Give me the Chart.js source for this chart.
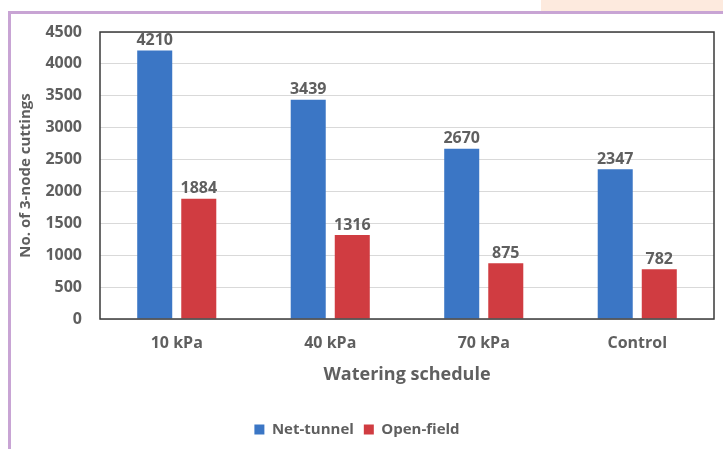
<!DOCTYPE html>
<html>
<head>
<meta charset="utf-8">
<script src="https://cdn.jsdelivr.net/npm/chart.js@4/dist/chart.umd.min.js"></script>
<style>
  html, body { margin: 0; padding: 0; background: #ffffff; }
  #wrap { position: relative; width: 723px; height: 449px; overflow: hidden; }
  #chart { position: absolute; left: 0; top: 0; }
  .frame-left { position: absolute; left: 8px; top: 11px; width: 3px; height: 438px; background: #c8a4d4; }
  .frame-top { position: absolute; left: 8px; top: 11px; width: 715px; height: 3px; background: #c8a4d4; }
  .tab { position: absolute; left: 541px; top: 0; width: 182px; height: 11px; background: #fdeade; }
</style>
</head>
<body>
<div id="wrap">
  <canvas id="chart" width="723" height="449"></canvas>
  <div class="tab"></div>
  <div class="frame-top"></div>
  <div class="frame-left"></div>
</div>
<script>
// Watering schedules and number of 3-node cuttings per production system
const categories = ['10 kPa', '40 kPa', '70 kPa', 'Control'];
const netTunnel = [4210, 3439, 2670, 2347];
const openField = [1884, 1316, 875, 782];
const yTicks = [0, 500, 1000, 1500, 2000, 2500, 3000, 3500, 4000, 4500];

const FONT = "'Open Sans', 'DejaVu Sans', sans-serif";
const TEXT = '#5f5f5f';

// Value labels above each bar
const valueLabels = {
  id: 'valueLabels',
  afterDatasetsDraw(chart) {
    const ctx = chart.ctx;
    ctx.save();
    ctx.font = 'bold 16px ' + FONT;
    ctx.fillStyle = TEXT;
    ctx.textAlign = 'center';
    ctx.textBaseline = 'bottom';
    chart.data.datasets.forEach((ds, i) => {
      chart.getDatasetMeta(i).data.forEach((bar, j) => {
        ctx.fillText(String(ds.data[j]), bar.x, bar.y - 2);
      });
    });
    ctx.restore();
  }
};

// Dark frame around the plot area
const plotFrame = {
  id: 'plotFrame',
  afterDatasetsDraw(chart) {
    const a = chart.chartArea;
    const ctx = chart.ctx;
    ctx.save();
    ctx.strokeStyle = '#3a3a3a';
    ctx.lineWidth = 1.5;
    ctx.strokeRect(a.left, a.top, a.right - a.left, a.bottom - a.top);
    ctx.restore();
  }
};

new Chart(document.getElementById('chart'), {
  type: 'bar',
  data: {
    labels: categories,
    datasets: [
      { label: 'Net-tunnel', data: netTunnel, backgroundColor: '#3b76c5',
        categoryPercentage: 0.574, barPercentage: 0.795 },
      { label: 'Open-field', data: openField, backgroundColor: '#d03c41',
        categoryPercentage: 0.574, barPercentage: 0.795 }
    ]
  },
  options: {
    responsive: false,
    animation: false,
    layout: { padding: { left: 0, right: 9, top: 32, bottom: 2 } },
    plugins: {
      tooltip: { enabled: false },
      legend: {
        position: 'bottom',
        labels: {
          boxWidth: 10, boxHeight: 10, padding: 10,
          color: TEXT,
          font: { family: FONT, size: 15, weight: 'bold' }
        }
      }
    },
    scales: {
      x: {
        grid: { display: false, drawTicks: false },
        border: { display: false },
        ticks: { color: TEXT, padding: 15, font: { family: FONT, size: 16, weight: 'bold' } },
        title: { display: true, text: 'Watering schedule', color: TEXT,
                 padding: { top: 0, bottom: 26 },
                 font: { family: FONT, size: 18, weight: 'bold' } },
        afterFit(scale) { scale.height = 93; }
      },
      y: {
        min: 0, max: 4500,
        afterBuildTicks(scale) { scale.ticks = yTicks.map(v => ({ value: v })); },
        grid: { color: '#d9d9d9', lineWidth: 1, drawTicks: false },
        border: { display: false },
        ticks: { color: TEXT, padding: 18, callback: v => String(v),
                 font: { family: FONT, size: 16, weight: 'bold' } },
        title: { display: true, text: 'No. of 3-node cuttings', color: TEXT,
                 padding: { top: 17, bottom: 0 },
                 font: { family: FONT, size: 15, weight: 'bold' } },
        afterFit(scale) { scale.width = 100; }
      }
    }
  },
  plugins: [valueLabels, plotFrame]
});
</script>
</body>
</html>
